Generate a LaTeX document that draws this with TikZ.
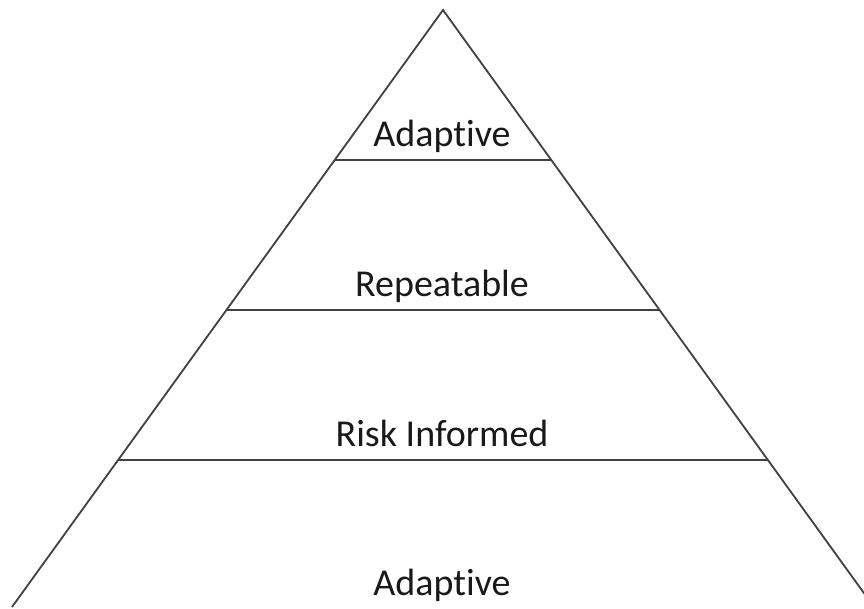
\documentclass[tikz,border=0pt]{standalone}
\usepackage{fontspec}
\setmainfont[Ligatures=NoCommon]{Carlito}
\begin{document}
\begin{tikzpicture}[x=1pt,y=-1pt,
  edge/.style={draw=black!75,line width=1.8pt,line join=miter},
  lvl/.style={draw=black!75,line width=1.8pt},
  lbl/.style={font=\fontsize{38}{42}\selectfont,text=black!90,anchor=base,inner sep=0pt}]
\useasboundingbox (0,0) rectangle (864,608);
\coordinate (apex) at (443,10);
\coordinate (bl) at (12,607);
\coordinate (br) at (874,607);
\coordinate (l1) at (335,160);
\coordinate (r1) at (551,160);
\coordinate (l2) at (226,310);
\coordinate (r2) at (660,310);
\coordinate (l3) at (118,460);
\coordinate (r3) at (768,460);
\draw[edge] (bl) -- (apex) -- (br);
\draw[lvl] (l1) -- (r1);
\draw[lvl] (l2) -- (r2);
\draw[lvl] (l3) -- (r3);
\node[lbl] (t1) at (442,146) {Adaptive};
\node[lbl] (t2) at (442,296) {Repeatable};
\node[lbl] (t3) at (442,446) {Risk Informed};
\node[lbl] (t4) at (442,595) {Adaptive};
\end{tikzpicture}
\end{document}
